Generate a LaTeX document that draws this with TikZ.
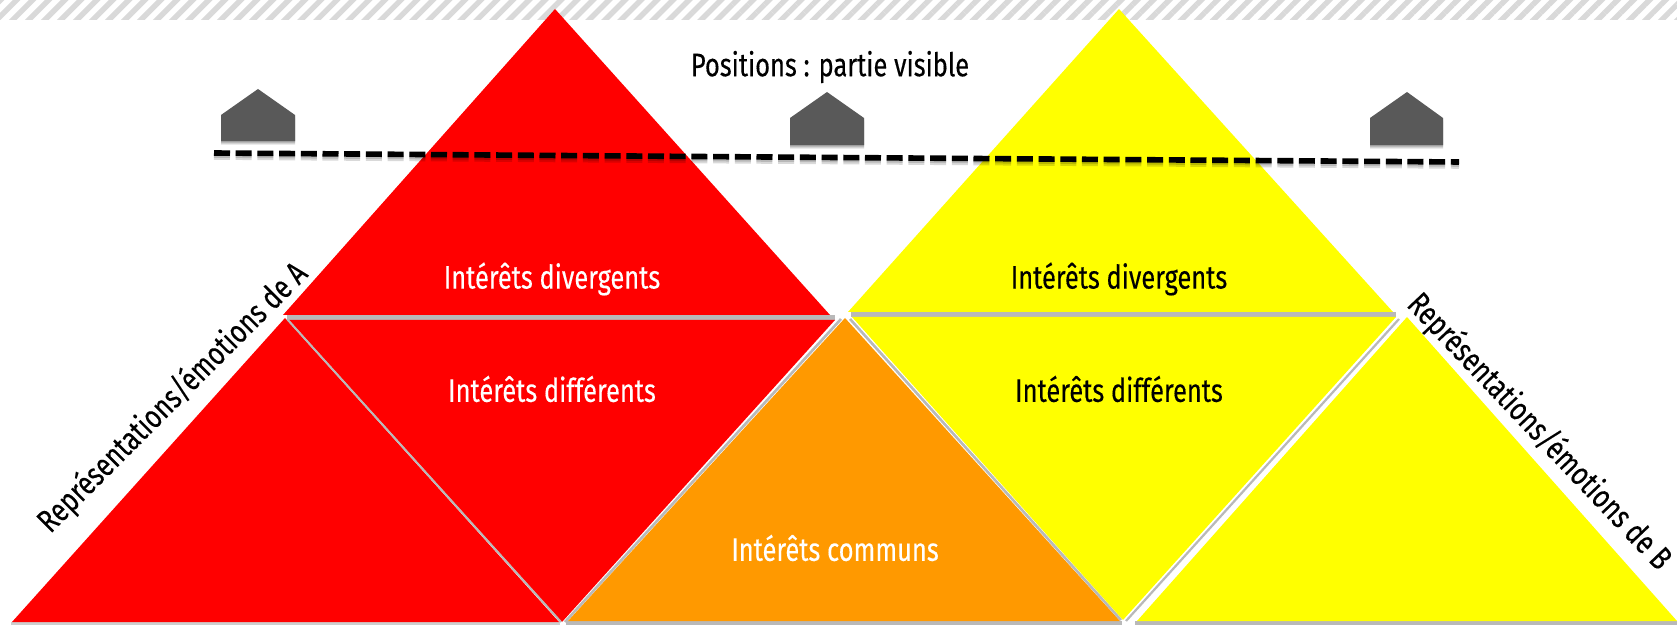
\documentclass[tikz,border=0pt]{standalone}
\usepackage{fontspec}
\setmainfont[FakeStretch=0.78,FakeBold=0.25]{Fira Sans}
\usetikzlibrary{patterns.meta,calc}
\definecolor{redf}{RGB}{255,0,0}
\definecolor{yelf}{RGB}{255,255,0}
\definecolor{oraf}{RGB}{255,153,0}
\definecolor{edgeg}{RGB}{185,185,185}
\definecolor{houseg}{RGB}{89,89,89}
\tikzset{x=0.5pt,y=-0.5pt,
 plain/.style={line join=miter},
 edgeline/.style={draw=edgeg,line width=1.3pt},
 lab/.style={font=\fontsize{16.3pt}{18pt}\selectfont,inner sep=0pt,anchor=center}}
\newcommand{\drawhouse}[6]{% left, mid, right, top, shoulder, bottom
  \foreach \d/\o in {4/.08,3/.10,2/.12,1/.14}{
    \fill[black,opacity=\o,shift={(0,\d)}] (#1,#5) -- (#2,#4) -- (#3,#5) -- (#3,#6) -- (#1,#6) -- cycle;}
  \fill[houseg] (#1,#5) -- (#2,#4) -- (#3,#5) -- (#3,#6) -- (#1,#6) -- cycle;}
\begin{document}
\begin{tikzpicture}
\useasboundingbox (0,0) rectangle (1677,625);
\fill[white] (0,0) rectangle (1677,625);
\fill[pattern={Lines[angle=45,distance=5.66pt,line width=2.7pt]},pattern color=black!15] (0,0) rectangle (1677,20);
% bottom strips
\fill[edgeg!70] (11,622) rectangle (560,624.5);
\fill[edgeg] (566,621) rectangle (1122,625);
\fill[edgeg] (1135,621) rectangle (1677,625);
% horizontal separators
\draw[edgeline,line width=2.2pt] (287,317.5) -- (835,317.5);
\draw[edgeline,line width=2.2pt] (851,314.5) -- (1396,314.5);
% triangles
\fill[redf,plain] (555,9) -- (830,315) -- (283,315) -- cycle;
\fill[yelf,plain] (1119,9) -- (1393,312) -- (848,312) -- cycle;
\fill[redf,plain] (289,320) -- (835,320) -- (562,622) -- cycle;
\fill[redf,plain] (285,318) -- (559,622) -- (12,622) -- cycle;
\draw[edgeline,line width=1pt] (287,319) -- (561,622);
\draw[edgeline] (841,319) -- (565,622);
\fill[oraf,plain] (845,318) -- (1120,621) -- (568,621) -- cycle;
\draw[edgeline] (850,319) -- (1121,620);
\fill[yelf,plain] (852,317) -- (1396,317) -- (1123,620) -- cycle;
\draw[edgeline,line width=1.1pt] (1399,319) -- (1126,621);
\fill[yelf,plain] (1407,317) -- (1677,621) -- (1137,621) -- cycle;
% houses
\drawhouse{221}{258}{295}{89}{115}{141}
\drawhouse{790}{827}{864}{92}{118}{145}
\drawhouse{1370}{1407}{1443}{92}{118}{145}
% dashed line
\coordinate (ds) at (214,153);
\coordinate (de) at (1459,162);
\draw[black,opacity=.15,line width=2.8pt,dash pattern=on 8pt off 2.85pt] ($(ds)+(0,4)$) -- ($(de)+(0,4)$);
\draw[black,opacity=.15,line width=2.8pt,dash pattern=on 8pt off 2.85pt] ($(ds)+(0,2)$) -- ($(de)+(0,2)$);
\draw[black,line width=2.8pt,dash pattern=on 8pt off 2.85pt] (ds) -- (de);
% labels
\node[lab,black] (pos) at (830,67) {Positions : partie visible};
\node[lab,white] (d1) at (552,279) {Intérêts divergents};
\node[lab,black] (d2) at (1119,279) {Intérêts divergents};
\node[lab,white] (e1) at (552,389) {Intérêts différents};
\node[lab,black] (e2) at (1119,389) {Intérêts différents};
\node[lab,white] (c) at (835,548) {Intérêts communs};
\node[lab,black,rotate=-46.5] (rb) at (1539,432) {Représentations/émotions de B};
\node[lab,black,rotate=45] (ra) at (173,398) {Représentations/émotions de A};
\end{tikzpicture}
\end{document}
